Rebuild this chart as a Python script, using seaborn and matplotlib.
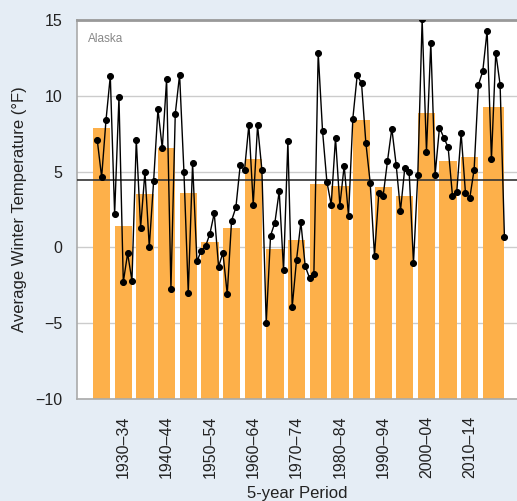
import matplotlib
matplotlib.use("Agg")
import matplotlib.pyplot as plt
import pandas as pd
import seaborn as sns
from matplotlib.ticker import FixedLocator

# annual winter temperatures, Alaska (deg F)
years = list(range(1926, 2021))
temps = [7.05, 4.63, 8.37, 11.3,
         2.2, 9.9, -2.3, -0.4, -2.2,
         7.1, 1.3, 4.98, 0.02, 4.36,
         9.1, 6.54, 11.08, -2.76, 8.81,
         11.39, 5.0, -3.0, 5.55, -0.93,
         -0.22, 0.07, 0.9, 2.25, -1.28,
         -0.36, -3.09, 1.76, 2.64, 5.44,
         5.11, 8.1, 2.82, 8.04, 5.11,
         -5.0, 0.77, 1.63, 3.7, -1.5,
         7.0, -3.95, -0.82, 1.65, -1.24,
         -2.03, -1.79, 12.84, 7.69, 4.34,
         2.8, 7.22, 2.75, 5.39, 2.07,
         8.5, 11.34, 10.84, 6.91, 4.27,
         -0.55, 3.61, 3.41, 5.7, 7.84,
         5.44, 2.42, 5.26, 4.96, -1.04,
         4.8, 15.04, 6.3, 13.5, 4.8,
         7.9, 7.24, 6.6, 3.41, 3.68,
         7.53, 3.59, 3.26, 5.13, 10.73,
         11.63, 14.3, 5.82, 12.84, 10.73, 0.66]

# 5-year period averages
period_start = [1925, 1930, 1935, 1940, 1945, 1950, 1955, 1960, 1965, 1970,
                1975, 1980, 1985, 1990, 1995, 2000, 2005, 2010, 2015]
period_end = [1929, 1934, 1939, 1944, 1949, 1954, 1959, 1964, 1969, 1974,
              1979, 1984, 1989, 1994, 1999, 2004, 2009, 2014, 2020]
period_avg = [7.86, 1.43, 3.52, 6.54, 3.59, 0.33, 1.26, 5.84, -0.11, 0.5,
              4.18, 4.03, 8.37, 3.97, 3.37, 8.88, 5.72, 5.97, 9.29]
long_term_avg = 4.45

label_mid = [1932, 1942, 1952, 1962, 1972, 1982, 1992, 2002, 2012]
tick_labels = ["1930–34", "1940–44", "1950–54", "1960–64", "1970–74",
               "1980–84", "1990–94", "2000–04", "2010–14"]
minor_mid = [1927, 1937, 1947, 1957, 1967, 1977, 1987, 1997, 2007, 2017.5]

sns.set_style("white")
plt.rcParams['font.family'] = ['Liberation Sans', 'DejaVu Sans']

bg = "#e5edf5"
y_min, y_max = -10, 15
fig = plt.figure(figsize=(5.17, 5.01), dpi=100, facecolor=bg)
ax = fig.add_axes([0.148, 0.204, 0.852, 0.756])
ax.set_facecolor("white")

ax.set_axisbelow(True)
ax.yaxis.grid(True, color="#cccccc", linewidth=1)

# bars rise from the bottom of the axis
widths = [e - s for s, e in zip(period_start, period_end)]
heights = [v - y_min for v in period_avg]
ax.bar(period_start, heights, width=widths, bottom=y_min, align="edge",
       color="#fdb04a", edgecolor="none", zorder=2)

ax.axhline(long_term_avg, color="#333333", linewidth=1.2, zorder=3)

df = pd.DataFrame({"Year": years, "Temp": temps})
sns.lineplot(data=df, x="Year", y="Temp", color="black", linewidth=1,
             marker="o", markersize=4.3, markeredgecolor="black", ax=ax, zorder=4)

ax.set_xlim(1921.2, 2022.9)
ax.set_ylim(y_min, y_max)
ax.set_yticks([-10, -5, 0, 5, 10, 15])
ax.set_yticklabels(["−10", "−5", "0", "5", "10", "15"])

ax.xaxis.set_major_locator(FixedLocator(label_mid))
ax.set_xticklabels(tick_labels, rotation=90)
ax.xaxis.set_minor_locator(FixedLocator(minor_mid))

ax.tick_params(axis="y", length=7, width=1, color="#aaaaaa", labelsize=11.5,
               labelcolor="#222222", pad=3)
ax.tick_params(axis="x", which="major", length=8, width=1, color="#aaaaaa",
               labelsize=11.5, labelcolor="#222222", pad=4)
ax.tick_params(axis="x", which="minor", length=4, width=1, color="#aaaaaa")

for side in ["left", "bottom"]:
    ax.spines[side].set_color("#aaaaaa")
    ax.spines[side].set_linewidth(1.2)
ax.spines["top"].set_color("#999999")
ax.spines["top"].set_linewidth(2)
ax.spines["right"].set_visible(False)

ax.set_xlabel("5-year Period", fontsize=12, color="#222222", labelpad=6)
ax.set_ylabel("Average Winter Temperature (°F)", fontsize=12, color="#222222",
              labelpad=6)

ax.text(0.027, 0.965, "Alaska", transform=ax.transAxes, fontsize=8.5,
        color="#888888", va="top", ha="left")

plt.savefig("out.png", dpi=100, facecolor=bg)
